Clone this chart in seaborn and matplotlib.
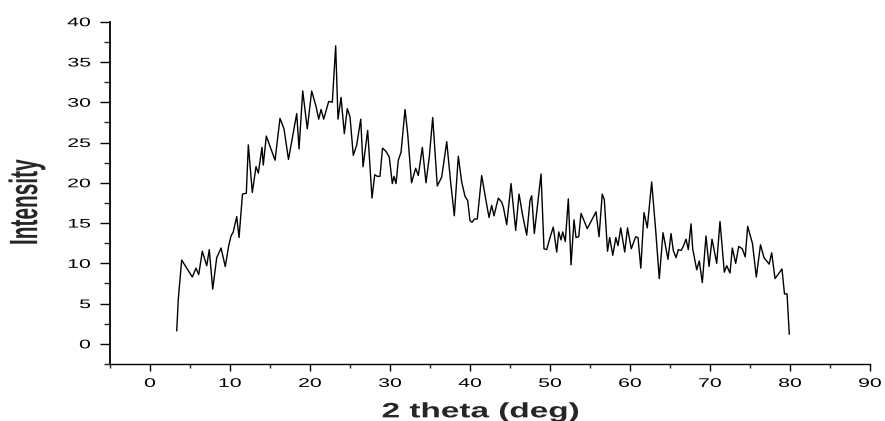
import matplotlib
matplotlib.use("Agg")
import matplotlib.pyplot as plt
import seaborn as sns
import pandas as pd
from matplotlib.patheffects import AbstractPathEffect
from matplotlib.transforms import Affine2D
from matplotlib.ticker import MultipleLocator

two_theta = [3.34, 3.54, 3.96, 5.29, 5.75, 6.09, 6.54, 7.09, 7.41, 7.84,
             8.34, 8.88, 9.41, 9.84, 10.13, 10.41, 10.84, 11.13, 11.56, 12.04,
             12.29, 12.79, 13.25, 13.54, 14.0, 14.16, 14.54, 15.63, 16.25, 16.75,
             17.31, 18.34, 18.63, 19.09, 19.66, 20.21, 20.75, 21.09, 21.38, 21.71,
             22.34, 22.79, 23.21, 23.5, 23.88, 24.29, 24.66, 25.0, 25.41, 25.84,
             26.34, 26.63, 27.21, 27.75, 28.09, 28.41, 28.75, 29.06, 29.5, 29.91,
             30.29, 30.5, 30.75, 31.04, 31.38, 31.88, 32.21, 32.69, 33.21, 33.54,
             34.04, 34.5, 34.91, 35.34, 35.91, 36.46, 37.09, 37.59, 38.04, 38.54,
             38.96, 39.38, 39.71, 40.0, 40.25, 40.56, 40.91, 41.46, 41.96, 42.38,
             42.71, 43.0, 43.54, 43.96, 44.19, 44.59, 45.13, 45.71, 46.13, 46.59,
             47.09, 47.5, 47.71, 48.04, 48.88, 49.25, 49.59, 50.0, 50.41, 50.84,
             51.09, 51.38, 51.59, 51.91, 52.29, 52.63, 53.0, 53.25, 53.59, 53.88,
             54.66, 55.75, 56.13, 56.53, 56.79, 57.19, 57.46, 57.85, 58.23, 58.5,
             58.84, 59.34, 59.69, 60.16, 60.71, 61.0, 61.35, 61.75, 62.16, 62.71,
             63.21, 63.66, 64.13, 64.75, 65.13, 65.41, 65.75, 66.04, 66.38, 66.66,
             67.0, 67.29, 67.63, 67.84, 68.34, 68.66, 69.04, 69.5, 69.88, 70.25,
             70.84, 71.25, 71.79, 72.09, 72.5, 72.79, 73.21, 73.59, 74.04, 74.4,
             74.71, 75.31, 75.79, 76.31, 76.75, 77.4, 77.71, 78.13, 79.0, 79.31,
             79.63, 79.91]

intensity = [1.6, 5.6, 10.4, 8.3, 9.4, 8.6, 11.5, 9.7, 11.7, 6.8,
             10.7, 11.9, 9.6, 12.2, 13.4, 13.9, 15.8, 13.2, 18.6, 18.7,
             24.7, 18.8, 22.0, 21.2, 24.4, 22.2, 25.8, 22.8, 28.0, 26.7,
             22.9, 28.6, 24.2, 31.4, 26.7, 31.4, 29.5, 27.9, 29.1, 27.9,
             30.1, 30.0, 37.0, 27.9, 30.6, 26.1, 29.2, 28.2, 23.4, 24.7,
             27.9, 22.0, 26.5, 18.1, 21.0, 20.8, 20.8, 24.3, 23.9, 23.2,
             19.9, 20.8, 19.9, 22.8, 23.8, 29.1, 26.1, 20.0, 21.8, 20.9,
             24.4, 20.0, 23.2, 28.1, 19.6, 20.7, 25.1, 20.0, 15.9, 23.3,
             20.1, 18.3, 17.8, 15.3, 15.1, 15.5, 15.5, 20.9, 18.0, 15.7,
             17.2, 15.9, 18.1, 17.6, 16.9, 14.8, 19.9, 14.1, 18.6, 15.9,
             13.5, 17.8, 18.4, 13.7, 21.1, 11.8, 11.7, 13.2, 14.5, 11.4,
             13.9, 12.9, 13.9, 12.7, 18.0, 9.8, 15.4, 13.2, 13.3, 16.2,
             14.3, 16.4, 13.3, 18.6, 17.9, 11.5, 13.2, 11.0, 13.2, 12.2,
             14.4, 11.4, 14.4, 11.8, 13.3, 13.2, 9.4, 16.3, 14.4, 20.1,
             14.1, 8.1, 13.8, 10.5, 13.7, 11.6, 10.7, 11.7, 11.6, 12.1,
             13.0, 11.7, 14.9, 11.8, 9.2, 10.3, 7.6, 13.4, 9.6, 13.0,
             10.0, 15.2, 8.9, 9.7, 8.8, 11.9, 10.0, 12.1, 11.8, 10.8,
             14.6, 12.45, 8.3, 12.3, 10.7, 9.9, 11.3, 8.1, 9.3, 6.2,
             6.2, 1.2]

x_ticks = [0, 10, 20, 30, 40, 50, 60, 70, 80, 90]
y_ticks = [0, 5, 10, 15, 20, 25, 30, 35, 40]
x_label = "2 theta (deg)"
y_label = "Intensity"


class HStretch(AbstractPathEffect):
    """Stretch a text path horizontally (display x) around an anchor."""
    def __init__(self, sx, anchor="center"):
        super().__init__()
        self.sx = sx
        self.anchor = anchor

    def draw_path(self, renderer, gc, tpath, affine, rgbFace=None):
        ext = tpath.get_extents(affine)
        if self.anchor == "right":
            a = ext.x1
        elif self.anchor == "left":
            a = ext.x0
        else:
            a = 0.5 * (ext.x0 + ext.x1)
        t = affine + Affine2D().translate(-a, 0).scale(self.sx, 1).translate(a, 0)
        renderer.draw_path(gc, tpath, t, rgbFace)


sns.set_style("ticks")
plt.rcParams["font.family"] = ["Liberation Sans", "DejaVu Sans"]

df = pd.DataFrame({"two_theta": two_theta, "intensity": intensity})

fig = plt.figure(figsize=(8.85, 4.21), dpi=100)
ax = fig.add_axes([110 / 885, 1 - 364 / 421, 760 / 885, (364 - 21.7) / 421])

sns.lineplot(data=df, x="two_theta", y="intensity", ax=ax, color="black",
             linewidth=1.0, estimator=None, sort=False)

ax.set_xlim(-5, 90)
ax.set_ylim(-2.5, 40)
ax.set_xticks(x_ticks)
ax.set_yticks(y_ticks)
ax.xaxis.set_minor_locator(MultipleLocator(5))
ax.yaxis.set_minor_locator(MultipleLocator(2.5))
sns.despine(ax=ax)
ax.spines["left"].set_linewidth(1.3)
ax.spines["bottom"].set_linewidth(1.0)
for s in ["left", "bottom"]:
    ax.spines[s].set_color("black")

ax.tick_params(axis="x", which="major", length=5, width=1.0, direction="out",
               labelsize=9, pad=5, colors="black")
ax.tick_params(axis="x", which="minor", length=3, width=1.0, direction="out")
ax.tick_params(axis="y", which="major", length=7, width=1.0, direction="out",
               labelsize=9, pad=7, colors="black")
ax.tick_params(axis="y", which="minor", length=4, width=1.0, direction="out")

ax.set_xlabel(x_label, fontsize=15, fontweight="bold")
ax.set_ylabel(y_label, fontsize=15, fontweight="bold")
ax.xaxis.set_label_coords(0.488, -0.112)
ax.yaxis.set_label_coords(-0.097, 0.473)

for t in ax.xaxis.get_major_ticks():
    t.label1.set_path_effects([HStretch(1.7, "center")])
for t in ax.yaxis.get_major_ticks():
    t.label1.set_path_effects([HStretch(1.7, "right")])
ax.xaxis.label.set_path_effects([HStretch(1.6, "center")])
ax.yaxis.label.set_path_effects([HStretch(1.9, "center")])

fig.savefig("out.png", dpi=100)
